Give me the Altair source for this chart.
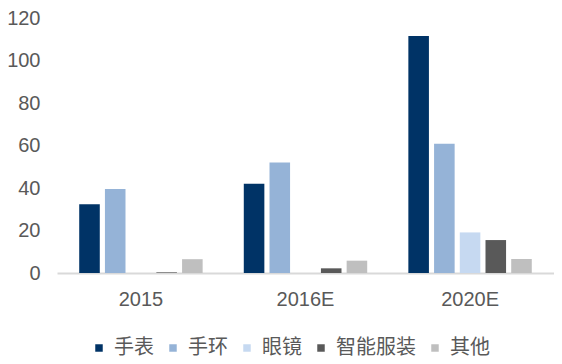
import altair as alt
import pandas as pd

years = ["2015", "2016E", "2020E"]
series = ["手表", "手环", "眼镜", "智能服装", "其他"]
colors = ["#003366", "#95B3D7", "#C6D9F1", "#595959", "#BFBFBF"]
watch = [32.3, 42.0, 111.5]
band = [39.5, 52.0, 60.8]
glasses = [0.0, 0.0, 19.1]
clothing = [0.3, 2.2, 15.5]
other = [6.5, 5.8, 6.6]

rows = []
for s, vals in zip(series, [watch, band, glasses, clothing, other]):
    for y, v in zip(years, vals):
        rows.append({"year": y, "series": s, "value": v})
df = pd.DataFrame(rows)

FONT = "Liberation Sans, Arial, Noto Sans CJK SC"
TXT = "#595959"

chart = alt.Chart(df).mark_bar().encode(
    x=alt.X("year:N", sort=years, title=None,
            scale=alt.Scale(paddingInner=0, paddingOuter=0.01),
            axis=alt.Axis(labelAngle=0, labelFontSize=20, labelColor=TXT, labelFont=FONT,
                          domainColor="#D9D9D9", domainWidth=2, ticks=False, labelPadding=16)),
    xOffset=alt.XOffset("series:N", sort=series,
                        scale=alt.Scale(paddingInner=0.2, paddingOuter=0.8)),
    y=alt.Y("value:Q", title=None,
            scale=alt.Scale(domain=[0, 120]),
            axis=alt.Axis(values=[0, 20, 40, 60, 80, 100, 120], grid=False, domain=False,
                          ticks=False, labelFontSize=20, labelColor=TXT, labelFont=FONT,
                          labelPadding=17)),
    color=alt.Color("series:N", sort=series, title=None,
                    scale=alt.Scale(domain=series, range=colors),
                    legend=alt.Legend(orient="none", direction="horizontal",
                                      legendX=32, legendY=320,
                                      symbolType="square", symbolSize=56,
                                      symbolStrokeWidth=0, symbolOffset=0,
                                      labelFontSize=20, labelColor=TXT, labelFont=FONT,
                                      labelOffset=5, columnPadding=9)),
).properties(
    width=497, height=255,
    autosize=alt.AutoSizeParams(type="none"),
    padding={"left": 49, "top": 10, "right": 0, "bottom": 88},
).configure_view(stroke=None)

chart.save("out.html", embed_options={"renderer": "svg", "actions": False})
